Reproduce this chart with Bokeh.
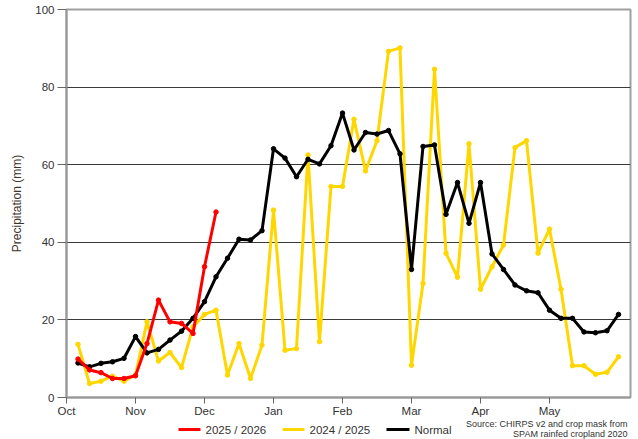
from bokeh.plotting import figure
from bokeh.layouts import column
from bokeh.models import Range1d, FixedTicker
from bokeh.core.properties import value
from bokeh.embed import file_html
from bokeh.resources import INLINE

# ---- data (pentad index 1..48 counted from 1 Oct) ----
pentads = list(range(1, 49))
month_ticks = [0, 6, 12, 18, 24, 30, 36, 42]
month_labels = ["Oct", "Nov", "Dec", "Jan", "Feb", "Mar", "Apr", "May"]
y_ticks = [0, 20, 40, 60, 80, 100]

normal = [8.9, 7.9, 8.8, 9.2, 10.1, 15.7, 11.5, 12.4, 14.8, 17.1,
          20.4, 24.7, 31.1, 35.9, 40.8, 40.6, 43.0, 64.1, 61.7, 56.9,
          61.4, 60.2, 64.9, 73.3, 63.8, 68.3, 67.9, 68.8, 62.8, 33.0,
          64.7, 65.1, 47.2, 55.4, 44.9, 55.4, 37.0, 33.0, 29.0, 27.5,
          27.0, 22.5, 20.4, 20.4, 16.9, 16.7, 17.2, 21.4]

season_2024_25 = [13.7, 3.6, 4.2, 5.5, 4.2, 5.8, 19.5, 9.4, 11.6, 7.7,
                  18.2, 21.4, 22.5, 5.8, 13.9, 4.9, 13.5, 48.3, 12.2, 12.6,
                  62.5, 14.4, 54.4, 54.4, 71.7, 58.4, 66.2, 89.2, 90.1, 8.3,
                  29.4, 84.6, 37.2, 31.0, 65.4, 27.9, 33.7, 39.3, 64.4, 66.2,
                  37.2, 43.4, 27.9, 8.2, 8.2, 6.0, 6.5, 10.5]

season_2025_26 = [9.9, 7.1, 6.4, 4.9, 4.9, 5.6, 13.9, 25.1, 19.5, 19.1,
                  16.5, 33.7, 47.8]

legend_labels = ["2025 / 2026", "2024 / 2025", "Normal"]
source_lines = ["Source: CHIRPS v2 and crop mask from", "SPAM rainfed cropland 2020"]

FONT = "Liberation Sans"
YEL = "#FFD700"
RED = "#FF0000"
BLK = "#000000"
TXT = "#333333"

W = 638
H_MAIN = 419
ML, MR, MT, MB = 66, 8, 9, 22
frame_w = W - ML - MR
px_per_pentad = 11.5
x_end = frame_w / px_per_pentad

p = figure(width=W, height=H_MAIN, output_backend="svg", toolbar_location=None,
           x_range=Range1d(0, x_end), y_range=Range1d(0, 100),
           min_border_left=ML, min_border_right=MR, min_border_top=MT,
           min_border_bottom=MB, background_fill_color="white",
           border_fill_color="white")

p.outline_line_color = "#a0a0a0"
p.outline_line_width = 2

p.xaxis.ticker = FixedTicker(ticks=month_ticks)
p.xaxis.major_label_overrides = {t: l for t, l in zip(month_ticks, month_labels)}
p.yaxis.ticker = FixedTicker(ticks=y_ticks)
for ax in (p.xaxis[0], p.yaxis[0]):
    ax.axis_line_color = "#999999"
    ax.axis_line_width = 2
    ax.major_tick_line_color = "#666666"
    ax.major_tick_line_width = 1
    ax.minor_tick_line_color = None
    ax.major_tick_in = 0
    ax.major_label_text_font = FONT
    ax.major_label_text_font_size = "11.5px"
    ax.major_label_text_color = TXT
p.xaxis.major_tick_out = 6
p.xaxis.major_label_standoff = 1
p.yaxis.major_tick_out = 9
p.yaxis.major_label_standoff = 3
p.yaxis.axis_label = "Precipitation (mm)"
p.yaxis.axis_label_text_font = FONT
p.yaxis.axis_label_text_font_size = "12px"
p.yaxis.axis_label_text_font_style = "normal"
p.yaxis.axis_label_text_color = "#3d342b"
p.yaxis.axis_label_standoff = 8

p.xgrid.grid_line_color = None
p.ygrid.ticker = FixedTicker(ticks=[20, 40, 60, 80])
p.ygrid.grid_line_color = "#3a3a3a"
p.ygrid.grid_line_width = 1

p.line(pentads, season_2024_25, line_color=YEL, line_width=3, line_join="round")
p.scatter(pentads, season_2024_25, size=4.5, color=YEL)
p.line(pentads, normal, line_color=BLK, line_width=3, line_join="round")
p.scatter(pentads, normal, size=4.5, color=BLK)
x_red = pentads[:len(season_2025_26)]
p.line(x_red, season_2025_26, line_color=RED, line_width=3, line_join="round")
p.scatter(x_red, season_2025_26, size=4.5, color=RED)

# ---- footer: legend + source note (pixel-unit canvas; frame aligned to 66..630) ----
H_FOOT = 439 - H_MAIN
top = H_MAIN
f = figure(width=W, height=H_FOOT, output_backend="svg", toolbar_location=None,
           x_range=Range1d(ML, W - MR), y_range=Range1d(top + H_FOOT, top),
           min_border_left=ML, min_border_right=MR, min_border_top=0,
           min_border_bottom=0,
           background_fill_color="white", border_fill_color="white")
f.axis.visible = False
f.grid.visible = False
f.outline_line_color = None

leg_y = 429
leg_x0 = [178, 282, 386]
leg_x1 = [200, 304, 409]
leg_cols = [RED, YEL, BLK]
f.segment(x0=leg_x0, y0=[leg_y] * 3, x1=leg_x1, y1=[leg_y] * 3,
          line_color=leg_cols, line_width=3)
f.text(x=[x + 5 for x in leg_x1], y=[leg_y] * 3, text=legend_labels,
       text_font=value(FONT), text_font_size="11.5px", text_color=TXT,
       text_align="left", text_baseline="middle")
f.text(x=[627, 627], y=[423.2, 433.5], text=source_lines,
       text_font=value(FONT), text_font_size="9px", text_color=TXT,
       text_align="right", text_baseline="middle")

layout = column(p, f, spacing=0)
open("out.html", "w").write(file_html(layout, INLINE))
